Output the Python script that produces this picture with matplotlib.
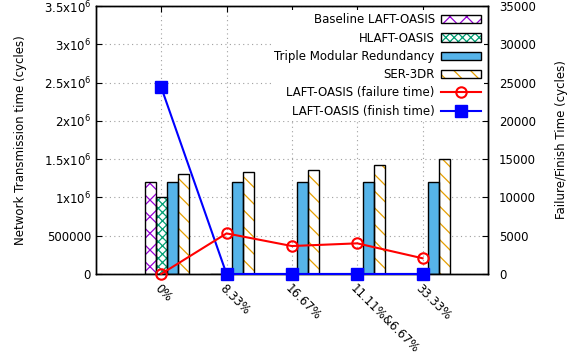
import numpy as np
import matplotlib
matplotlib.use('Agg')
import matplotlib.pyplot as plt
from matplotlib.patches import Patch
from matplotlib.lines import Line2D

categories = ['0%', '8.33%', '16.67%', '11.11%&6.67%', '33.33%']
baseline = [1.2e6, 0, 0, 0, 0]
hlaft = [1.0e6, 0, 0, 0, 0]
tmr = [1.2e6, 1.2e6, 1.2e6, 1.2e6, 1.2e6]
ser = [1.3e6, 1.33e6, 1.355e6, 1.42e6, 1.5e6]
failure_time = [0, 5300, 3650, 4000, 2050]
finish_time = [24400, 0, 0, 0, 0]

left_ticks = [0, 5e5, 1e6, 1.5e6, 2e6, 2.5e6, 3e6, 3.5e6]
left_labels = ['0', '500000', r'1x10$^6$', r'1.5x10$^6$', r'2x10$^6$',
               r'2.5x10$^6$', r'3x10$^6$', r'3.5x10$^6$']

plt.rcParams['font.family'] = 'DejaVu Sans'
plt.rcParams['font.size'] = 8.5
plt.rcParams['hatch.linewidth'] = 0.9

fig = plt.figure(figsize=(5.74, 3.6), dpi=100)
ax = fig.add_axes([0.167, 0.239, 0.683, 0.744])
ax2 = ax.twinx()

x = np.arange(len(categories))
w = 0.168

bar_styles = [
    (baseline, -1, 'white', '#9400D3', 'xx', 'Baseline LAFT-OASIS'),
    (hlaft, 0, 'white', '#009E73', 'xxxx', 'HLAFT-OASIS'),
    (tmr, 1, '#56B4E9', None, None, 'Triple Modular Redundancy'),
    (ser, 2, 'white', '#E69F00', '\\\\', 'SER-3DR'),
]
handles = []
for vals, off, fc, hc, hatch, label in bar_styles:
    pos = x + off * w
    if hatch:
        ax.bar(pos, vals, w, color=fc, edgecolor=hc, hatch=hatch, linewidth=0, zorder=2)
        fill_patch = Patch(facecolor=fc, edgecolor=hc, hatch=hatch, linewidth=0)
    else:
        ax.bar(pos, vals, w, color=fc, linewidth=0, zorder=2)
        fill_patch = Patch(facecolor=fc, linewidth=0)
    # black outline on top
    ax.bar(pos, vals, w, fill=False, edgecolor='black', linewidth=1, zorder=3)
    edge_patch = Patch(fill=False, edgecolor='black', linewidth=1)
    handles.append(((fill_patch, edge_patch), label))

ax.set_xlim(-1, 5)
ax.set_ylim(0, 3.5e6)
ax.set_yticks(left_ticks)
ax.set_yticklabels(left_labels)
ax.set_xticks(x)
ax.set_xticklabels(categories, rotation=-45, ha='left', va='top', rotation_mode='anchor')
ax.grid(True, linestyle=(0, (1, 3)), color='#a0a0a0', linewidth=0.8)
ax.set_axisbelow(True)
ax.tick_params(direction='in', length=4, top=True, bottom=True, right=False)
ax.tick_params(axis='x', pad=6)
ax.set_ylabel('Network Transmission time (cycles)', labelpad=12)

ax2.plot(x, failure_time, color='red', marker='o', markersize=7.5, markerfacecolor='none',
         markeredgewidth=1.5, linewidth=1.5, zorder=5, clip_on=False)
ax2.plot(x, finish_time, color='blue', marker='s', markersize=8, markerfacecolor='blue',
         linewidth=1.5, zorder=4, clip_on=False)
ax2.set_ylim(0, 35000)
ax2.set_yticks(np.arange(0, 35001, 5000))
ax2.tick_params(direction='in', length=4, pad=8)
ax2.set_ylabel('Failure/Finish Time (cycles)', labelpad=14)

for a in (ax, ax2):
    for s in a.spines.values():
        s.set_linewidth(1.0)

handles.append((Line2D([], [], color='red', marker='o', markersize=7.5, markerfacecolor='none',
                       markeredgewidth=1.5, linewidth=1.5), 'LAFT-OASIS (failure time)'))
handles.append((Line2D([], [], color='blue', marker='s', markersize=8, markerfacecolor='blue',
                       linewidth=1.5), 'LAFT-OASIS (finish time)'))

leg = ax2.legend([h for h, _ in handles], [l for _, l in handles], loc='upper right',
                 markerfirst=False, frameon=True,
                 facecolor='white', edgecolor='none', framealpha=1, fancybox=False,
                 handlelength=3.4, handleheight=0.7, labelspacing=0.45,
                 borderaxespad=0.3, borderpad=0.3, handletextpad=0.5)
leg.set_zorder(10)

fig.savefig('out.png', dpi=100)
